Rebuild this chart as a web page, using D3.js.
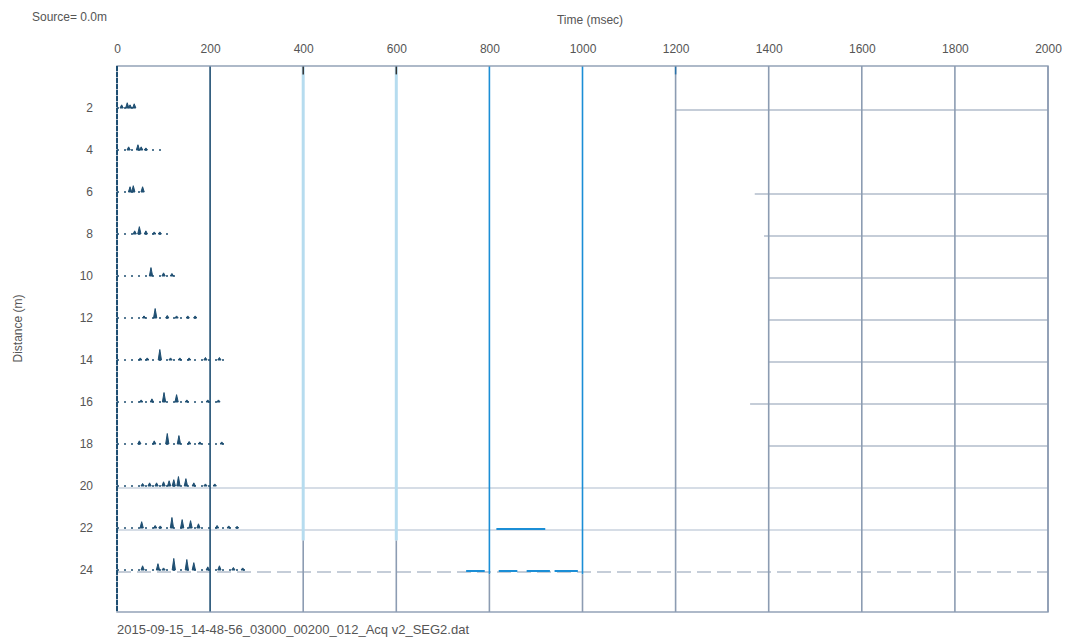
<!DOCTYPE html>
<html>
<head>
<meta charset="utf-8">
<script src="https://cdn.jsdelivr.net/npm/d3@7/dist/d3.min.js"></script>
<style>
  body { margin: 0; background: #fff; }
  text { font-family: "Liberation Sans", Arial, sans-serif; fill: #555; }
</style>
</head>
<body>
<div id="chart"></div>
<script>
"use strict"
// Seismic record (shot gather)
var timeTicks = [0, 200, 400, 600, 800, 1000, 1200, 1400, 1600, 1800, 2000];
var distances = [2, 4, 6, 8, 10, 12, 14, 16, 18, 20, 22, 24];
// time (msec) where each horizontal grid row starts to show
var gridStart = [1200, 2000, 1370, 1390, 1400, 1400, 1400, 1360, 1400, 0, 0, 0];
// end of the dotted trace baseline (msec)
var traceEnd = [40, 95, 60, 120, 125, 170, 230, 225, 240, 210, 265, 280];
// spikes per trace: [time msec, amplitude m]
var trace2 = [[10, 0.15], [22, 0.25], [28, 0.15], [37, 0.2]];
var trace4 = [[25, 0.15], [45, 0.25], [52, 0.15], [62, 0.1]];
var trace6 = [[28, 0.25], [35, 0.3], [55, 0.25]];
var trace8 = [[38, 0.15], [48, 0.35], [62, 0.15], [80, 0.1], [92, 0.1]];
var trace10 = [[73, 0.4], [100, 0.15], [118, 0.12]];
var trace12 = [[58, 0.1], [82, 0.45], [108, 0.12], [128, 0.1], [152, 0.1], [168, 0.1]];
var trace14 = [[50, 0.1], [65, 0.1], [92, 0.5], [115, 0.1], [135, 0.1], [155, 0.1], [190, 0.12], [220, 0.12]];
var trace16 = [[52, 0.1], [75, 0.15], [101, 0.45], [128, 0.35], [150, 0.1], [195, 0.1], [218, 0.1]];
var trace18 = [[48, 0.15], [80, 0.15], [108, 0.5], [133, 0.4], [155, 0.12], [178, 0.1], [225, 0.1]];
var trace20 = [[55, 0.12], [70, 0.15], [85, 0.15], [100, 0.2], [112, 0.25], [122, 0.3], [132, 0.45], [148, 0.35], [165, 0.15], [190, 0.1], [210, 0.1]];
var trace22 = [[53, 0.3], [82, 0.12], [93, 0.1], [118, 0.5], [140, 0.4], [158, 0.35], [175, 0.2], [215, 0.12], [240, 0.1], [258, 0.08]];
var trace24 = [[55, 0.2], [88, 0.3], [100, 0.1], [122, 0.55], [150, 0.5], [165, 0.35], [195, 0.15], [220, 0.2], [250, 0.12], [270, 0.1]];
var traces = [trace2, trace4, trace6, trace8, trace10, trace12, trace14, trace16, trace18, trace20, trace22, trace24];
// blue dashed late arrivals: [distance, start msec, end msec]
var lateBursts = [[22, 815, 920], [24, 750, 790], [24, 820, 860], [24, 880, 930], [24, 940, 990]];

var width = 1071;
var height = 641;
var xScale = d3.scaleLinear().domain([0, 2000]).range([117, 1048]);
var yScale = d3.scaleLinear().domain([0, 26]).range([66, 612]);

var traceColor = "#1f4f72";
var gridColor = "#8c9cb2";
var brightBlue = "#1b8ed6";
var paleBlue = "#b6dcef";

var svg = d3.select("#chart").append("svg")
    .attr("width", width)
    .attr("height", height);

// horizontal grid rows
svg.append("g").selectAll("line")
    .data(distances)
    .enter().append("line")
    .attr("x1", function (d, i) { return xScale(gridStart[i]); })
    .attr("x2", xScale(2000))
    .attr("y1", function (d) { return yScale(d) + 2; })
    .attr("y2", function (d) { return yScale(d) + 2; })
    .attr("stroke", function (d) { return d == 20 || d == 22 ? "#d6dde6" : gridColor; })
    .attr("stroke-width", function (d) { return d == 20 || d == 22 ? 2 : 1.2; })
    .attr("stroke-dasharray", function (d) { return d == 24 ? "14 6" : null; });

// vertical grid lines, coloured by time band
function vColor(t) {
    if (t <= 200) return traceColor;
    if (t <= 600) return paleBlue;
    if (t <= 1000) return brightBlue;
    return gridColor;
}
var vgrid = svg.append("g");
vgrid.selectAll(".vtop")
    .data(timeTicks.slice(1))
    .enter().append("line")
    .attr("class", "vtop")
    .attr("x1", function (d) { return xScale(d); })
    .attr("x2", function (d) { return xScale(d); })
    .attr("y1", yScale(0))
    .attr("y2", function (d) { return d >= 400 && d <= 600 ? yScale(22.6) : (d >= 800 && d <= 1000 ? yScale(24.2) : yScale(26)); })
    .attr("stroke", vColor)
    .attr("stroke-width", function (d) { return d >= 400 && d <= 600 ? 3 : 1.6; });
vgrid.selectAll(".vbot")
    .data(timeTicks.slice(2, 6))
    .enter().append("line")
    .attr("class", "vbot")
    .attr("x1", function (d) { return xScale(d); })
    .attr("x2", function (d) { return xScale(d); })
    .attr("y1", function (d) { return d <= 600 ? yScale(22.6) : yScale(24.2); })
    .attr("y2", yScale(26))
    .attr("stroke", gridColor)
    .attr("stroke-width", 1.6);
// dark tick stubs at top of the coloured lines
vgrid.selectAll(".stub")
    .data([400, 600, 1200])
    .enter().append("line")
    .attr("x1", function (d) { return xScale(d); })
    .attr("x2", function (d) { return xScale(d); })
    .attr("y1", yScale(0))
    .attr("y2", yScale(0.4))
    .attr("stroke", function (d) { return d == 1200 ? "#2a72aa" : "#333"; })
    .attr("stroke-width", 1.5);

// frame
svg.append("rect")
    .attr("x", xScale(0))
    .attr("y", yScale(0))
    .attr("width", xScale(2000) - xScale(0))
    .attr("height", yScale(26) - yScale(0))
    .attr("fill", "none")
    .attr("stroke", gridColor)
    .attr("stroke-width", 1.4);

// zero-time line (dark, dotted look)
svg.append("line")
    .attr("x1", xScale(0)).attr("x2", xScale(0))
    .attr("y1", yScale(0)).attr("y2", yScale(26))
    .attr("stroke", traceColor)
    .attr("stroke-width", 2)
    .attr("stroke-dasharray", "5 1");

// late arrivals + dashed tail of trace 24
svg.append("g").selectAll("line")
    .data(lateBursts)
    .enter().append("line")
    .attr("x1", function (d) { return xScale(d[1]); })
    .attr("x2", function (d) { return xScale(d[2]); })
    .attr("y1", function (d) { return yScale(d[0]) + 1; })
    .attr("y2", function (d) { return yScale(d[0]) + 1; })
    .attr("stroke", brightBlue)
    .attr("stroke-width", 2);

// traces
var gTraces = svg.append("g");
traces.forEach(function (spikes, i) {
    var d0 = distances[i];
    gTraces.append("line")
        .attr("x1", xScale(0))
        .attr("x2", xScale(traceEnd[i]))
        .attr("y1", yScale(d0))
        .attr("y2", yScale(d0))
        .attr("stroke", traceColor)
        .attr("stroke-width", 1.4)
        .attr("stroke-dasharray", "2 5");
    gTraces.selectAll(".sp" + i)
        .data(spikes)
        .enter().append("path")
        .attr("d", function (s) {
            var pts = [[s[0] - 3.5, d0], [s[0], d0 - s[1]], [s[0] + 3.5, d0]];
            return d3.line().x(function (p) { return xScale(p[0]); }).y(function (p) { return yScale(p[1]); })(pts) + "Z";
        })
        .attr("fill", traceColor)
        .attr("stroke", traceColor)
        .attr("stroke-width", 1);
});

// top axis (time)
var xAxis = d3.axisTop(xScale).tickValues(timeTicks).tickFormat(d3.format("d")).tickSize(0).tickPadding(13);
var gx = svg.append("g").attr("transform", "translate(0," + yScale(0) + ")").call(xAxis);
gx.select(".domain").remove();
gx.selectAll("text").style("font-size", "12px").attr("fill", "#444");

// left axis (distance)
var yAxis = d3.axisLeft(yScale).tickValues(distances).tickSize(0).tickPadding(24);
var gy = svg.append("g").attr("transform", "translate(" + xScale(0) + ",0)").call(yAxis);
gy.select(".domain").remove();
gy.selectAll("text").style("font-size", "12px").attr("fill", "#555");

// titles
svg.append("text").attr("x", 32).attr("y", 21)
    .style("font-size", "12px").attr("fill", "#444")
    .text("Source= 0.0m");
svg.append("text").attr("x", 590).attr("y", 24)
    .style("text-anchor", "middle")
    .style("font-size", "12px")
    .text("Time (msec)");
svg.append("text")
    .attr("transform", "translate(22," + yScale(12.5) + ") rotate(-90)")
    .style("text-anchor", "middle")
    .style("font-size", "12px")
    .text("Distance (m)");
svg.append("text").attr("x", 117).attr("y", 634)
    .style("font-size", "13px").attr("fill", "#8a8f96")
    .text("2015-09-15_14-48-56_03000_00200_012_Acq v2_SEG2.dat");
</script>
</body>
</html>
